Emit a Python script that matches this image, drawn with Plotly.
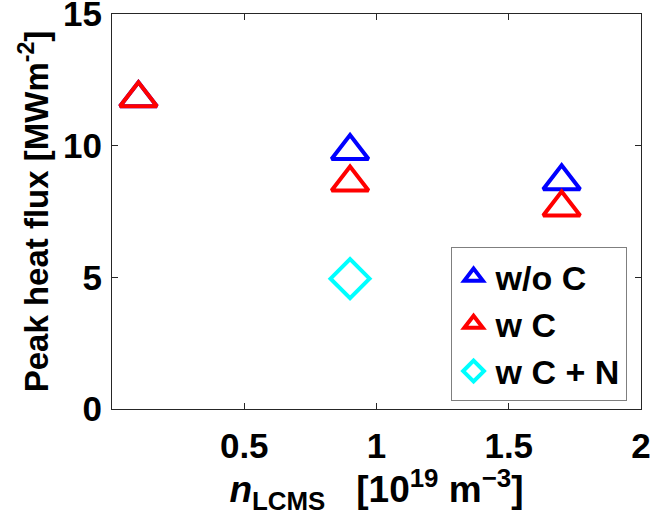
import plotly.graph_objects as go

# Peak heat flux versus LCMS density, per impurity case
n_lcms_wo_c = [0.1, 0.9, 1.7]
q_peak_wo_c = [11.8, 9.8, 8.65]

n_lcms_w_c = [0.1, 0.9, 1.7]
q_peak_w_c = [11.8, 8.6, 7.65]

n_lcms_w_cn = [0.9]
q_peak_w_cn = [4.95]

x_ticks = [0.5, 1, 1.5, 2]
y_ticks = [0, 5, 10, 15]

FONT = "Liberation Sans, Arial, Helvetica, sans-serif"
AXIS_COLOR = "#262626"

fig = go.Figure()

fig.add_trace(go.Scatter(
    x=n_lcms_wo_c, y=q_peak_wo_c, mode="markers", name="w/o C",
    legendgroup="a",
    marker=dict(symbol="triangle-up-open", size=32, color="#0000FF",
                line=dict(width=4, color="#0000FF")),
))
fig.add_trace(go.Scatter(
    x=n_lcms_w_c, y=q_peak_w_c, mode="markers", name="w C",
    legendgroup="b",
    marker=dict(symbol="triangle-up-open", size=32, color="#FF0000",
                line=dict(width=4, color="#FF0000")),
))
fig.add_trace(go.Scatter(
    x=n_lcms_w_cn, y=q_peak_w_cn, mode="markers", name="w C + N",
    legendgroup="c",
    marker=dict(symbol="diamond-open", size=30, color="#00FFFF",
                line=dict(width=4, color="#00FFFF")),
))

axis_common = dict(
    showline=True, linecolor=AXIS_COLOR, linewidth=1, mirror="ticks",
    ticks="inside", ticklen=6, tickwidth=1, tickcolor=AXIS_COLOR,
    showgrid=False, zeroline=False, automargin=False,
    ticklabeloverflow="allow",
    tickfont=dict(family=FONT, size=35, color="black", weight="bold"),
)

fig.update_xaxes(
    range=[0, 2], tickvals=x_ticks, ticktext=[f"{v:g}" for v in x_ticks],
    ticklabelstandoff=6,
    title=dict(
        text="<i>n</i><sub>LCMS</sub>   [10<sup>19</sup> m<sup>−3</sup>]",
        font=dict(family=FONT, size=37, color="black", weight="bold"),
        standoff=6,
    ),
    **axis_common,
)
fig.update_yaxes(
    range=[0, 15], tickvals=y_ticks, ticktext=[str(v) for v in y_ticks],
    ticklabelstandoff=2,
    title=dict(
        text="Peak heat flux [MWm<sup>-2</sup>]",
        font=dict(family=FONT, size=33, color="black", weight="bold"),
        standoff=4,
    ),
    **axis_common,
)

fig.update_layout(
    width=653, height=515,
    margin=dict(l=112, r=12, t=14, b=106),
    paper_bgcolor="white", plot_bgcolor="white",
    showlegend=True,
    legend=dict(
        x=0.64, y=0.41, xanchor="left", yanchor="top",
        bgcolor="white", bordercolor="#7f7f7f", borderwidth=1,
        font=dict(family=FONT, size=34, color="black", weight="bold"),
        tracegroupgap=0, itemwidth=34,
    ),
)

fig.write_html("out.html")
